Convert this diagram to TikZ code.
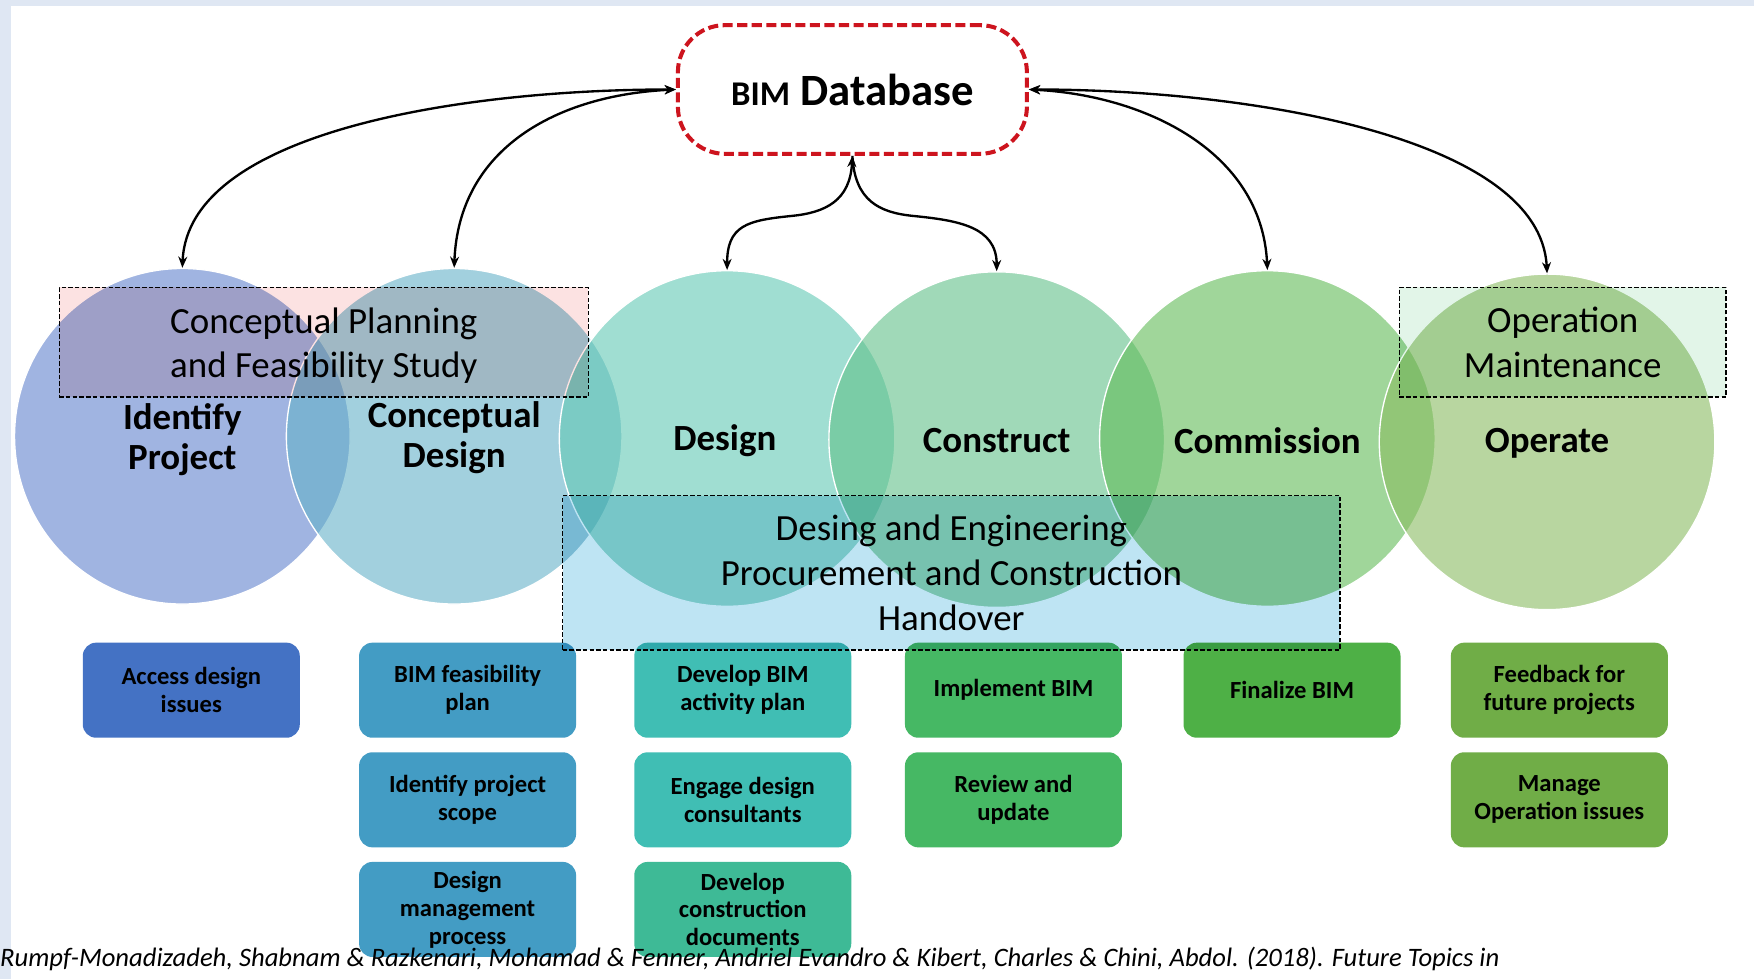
\documentclass[tikz,border=0pt]{standalone}
\usepackage{fontspec}
\setmainfont{Carlito}
\usetikzlibrary{arrows.meta,shapes.geometric}
\definecolor{framecol}{RGB}{223,231,243}
\definecolor{bimred}{RGB}{205,20,30}
\definecolor{cA}{RGB}{97,130,205}
\definecolor{cB}{RGB}{100,177,200}
\definecolor{cC}{RGB}{97,200,180}
\definecolor{cD}{RGB}{97,193,138}
\definecolor{cE}{RGB}{97,188,88}
\definecolor{cF}{RGB}{138,188,97}
\definecolor{tA}{RGB}{68,114,196}
\definecolor{tB}{RGB}{67,156,196}
\definecolor{tC}{RGB}{64,190,180}
\definecolor{tCC}{RGB}{62,186,150}
\definecolor{tD}{RGB}{70,184,100}
\definecolor{tE}{RGB}{78,176,70}
\definecolor{tF}{RGB}{112,173,71}
\definecolor{pinkfill}{RGB}{252,226,226}
\definecolor{bluefill}{RGB}{190,228,243}
\definecolor{greenfill}{RGB}{226,245,232}
\tikzset{
  phase/.style={circle, minimum size=300, inner sep=0, draw=white, line width=1.2, fill opacity=0.6},
  plabel/.style={font=\fontsize{33}{36}\selectfont\bfseries, align=center},
  task/.style={rounded corners=12, minimum width=194, minimum height=85, inner sep=0, align=center, font=\fontsize{22}{25}\selectfont\bfseries},
  stage/.style={draw=black, dash pattern=on 4pt off 2pt, line width=1.3, inner sep=0},
  stagetext/.style={font=\fontsize{33}{40}\selectfont, align=center},
  arr/.style={line width=2.1},
  >={Stealth[length=10,width=8]},
}
\begin{document}
\begin{tikzpicture}[x=1pt,y=-1pt]
\useasboundingbox (0,0) rectangle (1568,875);
\fill[framecol] (0,0) rectangle (1568,875);
\fill[white] (10,5) rectangle (1568,875);

% BIM database
\node[draw=bimred, line width=3.6, dash pattern=on 9pt off 4pt, rounded corners=42,
      minimum width=312, minimum height=115, inner sep=0, font=\fontsize{40}{42}\selectfont\bfseries]
  (bim) at (762,80) {{\fontsize{31}{32}\selectfont BIM} Database};

% phase circles
\node[phase, fill=cA] (c1) at (163,390) {};
\node[phase, fill=cB] (c2) at (406,390) {};
\node[phase, fill=cC] (c3) at (650,392) {};
\node[phase, fill=cD] (c4) at (891,393) {};
\node[phase, fill=cE] (c5) at (1133,392) {};
\node[phase, fill=cF] (c6) at (1383,395) {};

% tasks
\node[task, fill=tA] (t11) at (171,617) {Access design\\issues};
\node[task, fill=tB] (t21) at (418,617) {BIM feasibility\\plan};
\node[task, fill=tB] (t22) at (418,715) {Identify project\\scope};
\node[task, fill=tB] (t23) at (418,813) {Design\\management\\process};
\node[task, fill=tC] (t31) at (664,617) {Develop BIM\\activity plan};
\node[task, fill=tC] (t32) at (664,715) {Engage design\\consultants};
\node[task, fill=tCC] (t33) at (664,813) {Develop\\construction\\documents};
\node[task, fill=tD] (t41) at (906,617) {Implement BIM};
\node[task, fill=tD] (t42) at (906,715) {Review and\\update};
\node[task, fill=tE] (t51) at (1155,617) {Finalize BIM};
\node[task, fill=tF] (t61) at (1394,617) {Feedback for\\future projects};
\node[task, fill=tF] (t62) at (1394,715) {Manage\\Operation issues};

% stage boxes
\begin{scope}[blend mode=multiply]
\node[stage, fill=pinkfill, minimum width=473, minimum height=98] (s1) at (289.5,306) {};
\node[stage, fill=bluefill, minimum width=695, minimum height=138] (s2) at (850.5,512) {};
\node[stage, fill=greenfill, minimum width=292, minimum height=98] (s3) at (1397,306) {};
\end{scope}
\node[stagetext] (s1t) at ([yshift=-3]s1.center) {Conceptual Planning\\and Feasibility Study};
\node[stagetext] (s2t) at (s2.center) {Desing and Engineering\\Procurement and Construction\\Handover};
\node[stagetext] (s3t) at (s3.center) {Operation\\Maintenance};

% phase labels
\node[plabel] (l1) at (163,393) {Identify\\Project};
\node[plabel] (l2) at (406,391) {Conceptual\\Design};
\node[plabel] (l3) at (648,394) {Design};
\node[plabel] (l4) at (891,394) {Construct};
\node[plabel] (l5) at (1133,394) {Commission};
\node[plabel] (l6) at (1383,396) {Operate};

% connectors
\draw[arr, <->] (bim.west) .. controls +(-190,0) and +(5,-122) .. (c1.north);
\draw[arr, <->] (bim.west) .. controls +(-106,5) and +(4,-107) .. (c2.north);
\draw[arr, <->] (bim.east) .. controls +(102,5) and +(-5,-107) .. (c5.north);
\draw[arr, <->] (bim.east) .. controls +(196,0) and +(-6,-122) .. (c6.north);
\coordinate (kl) at (708,193);
\coordinate (kr) at (816,193);
\draw[arr, <->] (bim.south) .. controls +(-2,40) and +(30,-3) .. (kl)
   .. controls +(-40,4) and +(0,-40) .. (c3.north);
\draw[arr, ->] (bim.south) .. controls +(2,40) and +(-30,-3) .. (kr)
   .. controls +(40,4) and +(0,-40) .. (c4.north);

% citation
\node[anchor=base west, inner sep=0, font=\fontsize{23.8}{26}\selectfont\itshape] (cite) at (0,864)
  {Rumpf-Monadizadeh, Shabnam \& Razkenari, Mohamad \& Fenner, Andriel Evandro \& Kibert, Charles \& Chini, Abdol. (2018). Future Topics in};
\end{tikzpicture}
\end{document}
